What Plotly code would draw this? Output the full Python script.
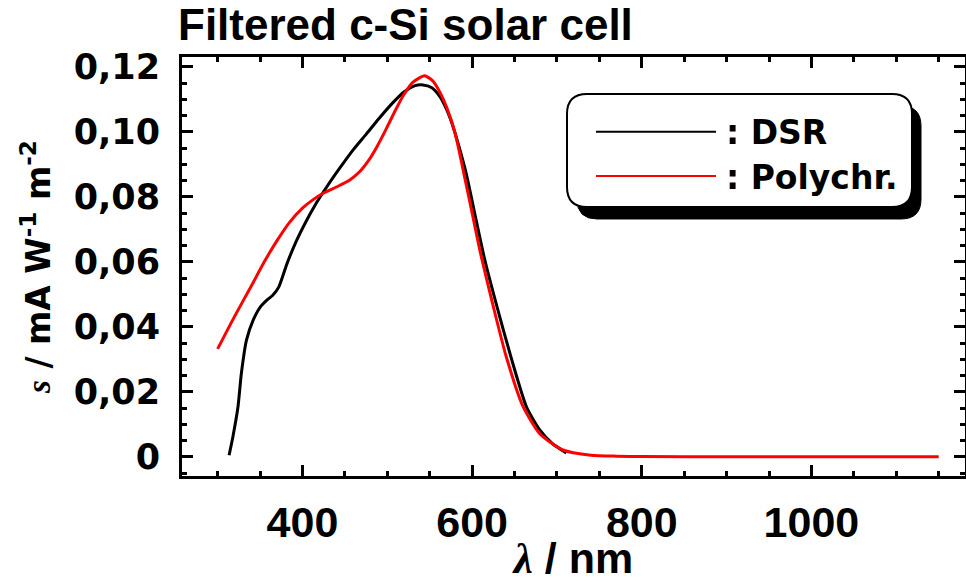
import plotly.graph_objects as go

# ---------------- data ----------------
dsr_wl = [313.5, 318, 324, 328, 334, 342, 350, 358, 365, 372, 382, 393, 405, 415,
          426, 437, 448, 460, 475, 490, 505, 520, 532, 542, 552, 562, 570, 577,
          585, 593, 605, 615, 630, 646, 664, 680, 695, 711]
dsr_s = [0.0005, 0.0062, 0.0154, 0.0257, 0.0359, 0.0421, 0.0460, 0.0482, 0.0497,
         0.0522, 0.0596, 0.0665, 0.0728, 0.0775, 0.0820, 0.0863, 0.0903, 0.0945,
         0.0992, 0.1040, 0.1085, 0.1123, 0.1141, 0.1144, 0.1136, 0.1108, 0.1068,
         0.1020, 0.0950, 0.0872, 0.0725, 0.0605, 0.0455, 0.0305, 0.0154, 0.0082,
         0.0040, 0.0012]

poly_wl = [300, 320, 340, 355, 370, 385, 400, 413, 426, 440, 455, 467, 478, 488,
           498, 508, 518, 530, 544, 553, 562, 570, 580, 590, 600, 610, 625, 640,
           660, 680, 707, 740, 770, 800, 900, 1000, 1150]
poly_s = [0.0332, 0.0432, 0.0527, 0.0600, 0.0665, 0.0722, 0.0765, 0.0792, 0.0813,
          0.0830, 0.0850, 0.0876, 0.0912, 0.0955, 0.1005, 0.1058, 0.1108, 0.1152,
          0.1172, 0.1158, 0.1122, 0.1075, 0.0995, 0.0875, 0.0750, 0.0625, 0.0462,
          0.0310, 0.0155, 0.0070, 0.0021, 0.0005, 0.0002, 0.0001, 0.0, 0.0, 0.0]

x_ticks = [400, 600, 800, 1000]
y_ticks = [0, 0.02, 0.04, 0.06, 0.08, 0.10, 0.12]
y_ticktext = ["0", "0,02", "0,04", "0,06", "0,08", "0,10", "0,12"]

series_names = ["DSR", "Polychr."]
series_colors = ["#000000", "#ff0000"]

# ---------------- figure ----------------
W, H = 966, 582
L, R, T, B = 182, 965, 57, 476

fig = go.Figure()
fig.add_trace(go.Scatter(x=dsr_wl, y=dsr_s, mode="lines", name=series_names[0],
                         line=dict(color=series_colors[0], width=3, shape="spline", smoothing=0.6)))
fig.add_trace(go.Scatter(x=poly_wl, y=poly_s, mode="lines", name=series_names[1],
                         line=dict(color=series_colors[1], width=3, shape="spline", smoothing=0.6)))

axis_common = dict(showline=True, linewidth=3, linecolor="black", mirror="ticks",
                   ticks="inside", tickcolor="black", tickwidth=2.5, ticklen=11,
                   showgrid=False, zeroline=False, automargin=False)

fig.update_xaxes(range=[258, 1181], tickvals=x_ticks,
                 tickfont=dict(family="Liberation Sans", size=43, color="black", weight="bold"),
                 ticklabelstandoff=6,
                 minor=dict(dtick=50, tick0=0, ticks="inside", ticklen=5, tickwidth=2.5, tickcolor="black"),
                 title=dict(text="<i><span style='font-family:Liberation Serif'>λ</span></i> / nm",
                            font=dict(family="Liberation Sans", size=43, color="black", weight="bold"),
                            standoff=16),
                 **axis_common)
fig.update_yaxes(range=[-0.0059, 0.123], tickvals=y_ticks, ticktext=y_ticktext,
                 tickfont=dict(family="DejaVu Sans", size=35, color="black", weight="bold"),
                 ticklabelstandoff=12,
                 minor=dict(dtick=0.005, tick0=0, ticks="inside", ticklen=5, tickwidth=2.5, tickcolor="black"),
                 title=dict(text="<i><span style='font-family:Liberation Serif'>s</span></i> / mA W<sup>-1</sup> m<sup>-2</sup>",
                            font=dict(family="DejaVu Sans", size=33, color="black", weight="bold"),
                            standoff=14),
                 **axis_common)


def px(x):
    return (x - L) / (R - L)


def py(y):
    return (B - y) / (B - T)


def rounded_path(x0, y0, x1, y1, r):
    pts = [("M", [(x0 + r, y0)]), ("L", [(x1 - r, y0)]), ("Q", [(x1, y0), (x1, y0 + r)]),
           ("L", [(x1, y1 - r)]), ("Q", [(x1, y1), (x1 - r, y1)]), ("L", [(x0 + r, y1)]),
           ("Q", [(x0, y1), (x0, y1 - r)]), ("L", [(x0, y0 + r)]), ("Q", [(x0, y0), (x0 + r, y0)])]
    s = ""
    for cmd, ps in pts:
        s += cmd + " " + " ".join(f"{px(a):.5f},{py(b):.5f}" for a, b in ps) + " "
    return s + "Z"


shapes = []
# legend shadow and box
shapes.append(dict(type="path", xref="paper", yref="paper", layer="above",
                   path=rounded_path(577, 106, 921, 219, 20),
                   fillcolor="black", line=dict(color="black", width=1)))
shapes.append(dict(type="path", xref="paper", yref="paper", layer="above",
                   path=rounded_path(567, 94, 912, 207, 20),
                   fillcolor="white", line=dict(color="black", width=2)))
legend_y = [131.7, 176]
for yy, col in zip(legend_y, series_colors):
    shapes.append(dict(type="line", xref="paper", yref="paper", layer="above",
                       x0=px(596), x1=px(716), y0=py(yy), y1=py(yy),
                       line=dict(color=col, width=2)))

annotations = []
for yy, name in zip(legend_y, series_names):
    annotations.append(dict(xref="paper", yref="paper", x=px(724), y=py(yy + 1),
                            xanchor="left", yanchor="middle", showarrow=False,
                            text=": " + name,
                            font=dict(family="DejaVu Sans", size=33, color="black", weight="bold")))

fig.update_layout(
    width=W, height=H,
    margin=dict(l=L, r=W - R, t=T, b=H - B),
    plot_bgcolor="white", paper_bgcolor="white",
    showlegend=False,
    shapes=shapes, annotations=annotations,
    title=dict(text="Filtered c-Si solar cell", xref="container", yref="container",
               x=178 / W, xanchor="left", y=1 - 9 / H, yanchor="top",
               font=dict(family="Liberation Sans", size=44, color="black", weight="bold")),
)

fig.write_html("out.html")
